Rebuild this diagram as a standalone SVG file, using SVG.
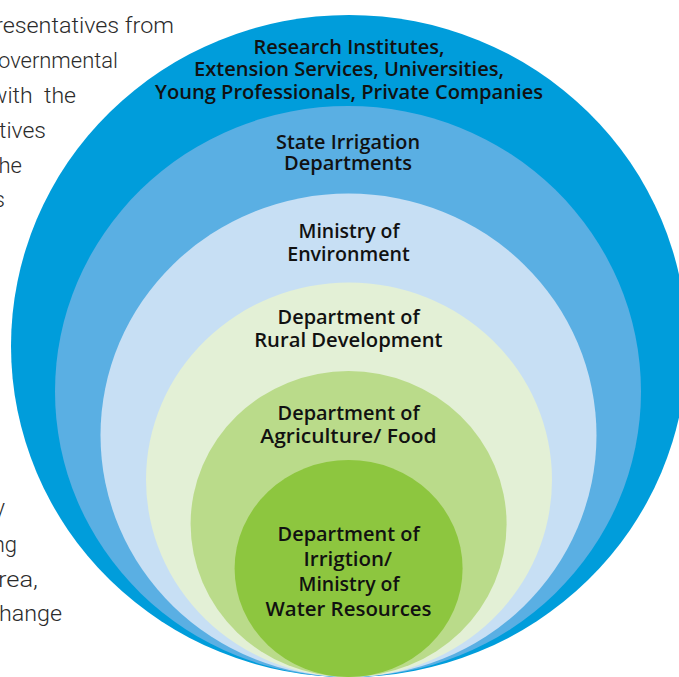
<svg xmlns="http://www.w3.org/2000/svg" width="679" height="677" viewBox="0 0 679 677">
<style>
.side{font-family:Roboto,"Liberation Sans",sans-serif;font-weight:300;font-size:22px;fill:#2b2b2b;text-anchor:end}
.lbl{font-family:"Open Sans","Liberation Sans",sans-serif;font-weight:600;font-size:20px;fill:#111;text-anchor:middle}
</style>
<rect width="679" height="677" fill="#fff"/>
<g id="side-text">
<text class="side" x="174" y="33" textLength="179" lengthAdjust="spacingAndGlyphs">resentatives from</text>
<text class="side" x="118" y="68" textLength="120" lengthAdjust="spacingAndGlyphs">overnmental</text>
<text class="side" x="76" y="103" xml:space="preserve" textLength="86" lengthAdjust="spacingAndGlyphs">with  the</text>
<text class="side" x="46" y="138" textLength="47" lengthAdjust="spacingAndGlyphs">tives</text>
<text class="side" x="22" y="173">he</text>
<text class="side" x="5" y="207">s</text>
<text class="side" x="5" y="515">y</text>
<text class="side" x="17" y="552">ng</text>
<text class="side" x="38" y="587" textLength="40" lengthAdjust="spacingAndGlyphs">rea,</text>
<text class="side" x="62" y="621" textLength="63" lengthAdjust="spacingAndGlyphs">hange</text>
</g>
<g id="ring1"><ellipse cx="349" cy="346" rx="338" ry="331" fill="#009ddb"/>
<text class="lbl" x="349" y="54" textLength="191" lengthAdjust="spacingAndGlyphs">Research Institutes,</text>
<text class="lbl" x="349" y="76" textLength="310" lengthAdjust="spacingAndGlyphs">Extension Services, Universities,</text>
<text class="lbl" x="349" y="98.5" textLength="388" lengthAdjust="spacingAndGlyphs">Young Professionals, Private Companies</text></g>
<g id="ring2"><ellipse cx="348" cy="391.5" rx="293" ry="285.5" fill="#5aafe3"/>
<text class="lbl" x="348" y="148.5" textLength="144" lengthAdjust="spacingAndGlyphs">State Irrigation</text>
<text class="lbl" x="348" y="170" textLength="128" lengthAdjust="spacingAndGlyphs">Departments</text></g>
<g id="ring3"><ellipse cx="348.5" cy="435.3" rx="248" ry="241.7" fill="#c7dff4"/>
<text class="lbl" x="349" y="238" textLength="101" lengthAdjust="spacingAndGlyphs">Ministry of</text>
<text class="lbl" x="348.5" y="260.5" textLength="122.6" lengthAdjust="spacingAndGlyphs">Environment</text></g>
<g id="ring4"><ellipse cx="349" cy="479.7" rx="203" ry="197.3" fill="#e3f0d6"/>
<text class="lbl" x="348.6" y="324" textLength="142" lengthAdjust="spacingAndGlyphs">Department of</text>
<text class="lbl" x="348.4" y="346.5" textLength="188.4" lengthAdjust="spacingAndGlyphs">Rural Development</text></g>
<g id="ring5"><ellipse cx="348.6" cy="524" rx="158" ry="153" fill="#badb8a"/>
<text class="lbl" x="348.6" y="420" textLength="142" lengthAdjust="spacingAndGlyphs">Department of</text>
<text class="lbl" x="348.5" y="442.5" textLength="176.3" lengthAdjust="spacingAndGlyphs">Agriculture/ Food</text></g>
<g id="ring6"><ellipse cx="348.6" cy="568.5" rx="114" ry="108.5" fill="#8dc63f"/>
<text class="lbl" x="348.6" y="541.4" textLength="142" lengthAdjust="spacingAndGlyphs">Department of</text>
<text class="lbl" x="347.8" y="566" textLength="88.4" lengthAdjust="spacingAndGlyphs">Irrigtion/</text>
<text class="lbl" x="349" y="591.2" textLength="101" lengthAdjust="spacingAndGlyphs">Ministry of</text>
<text class="lbl" x="348.5" y="616.3" textLength="166" lengthAdjust="spacingAndGlyphs">Water Resources</text></g>
</svg>
